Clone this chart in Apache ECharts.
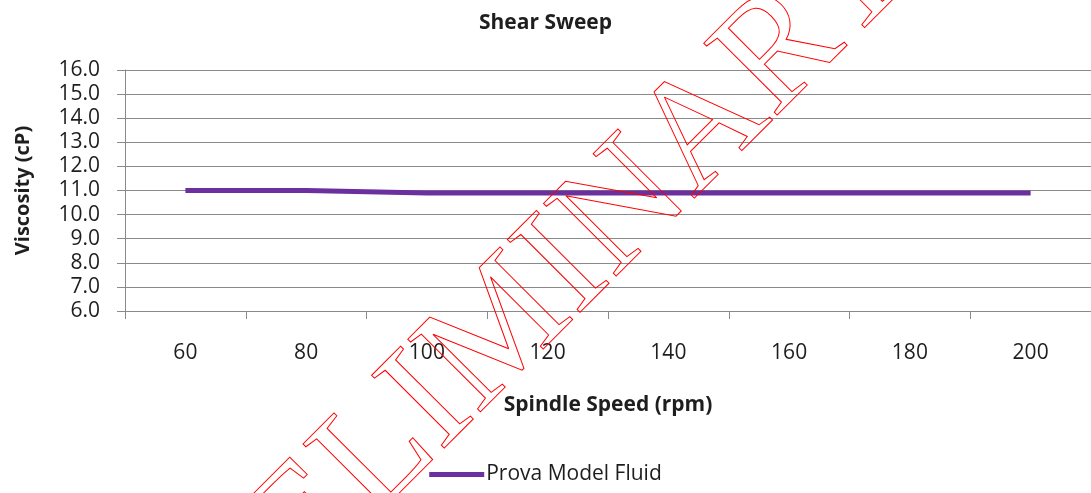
<!DOCTYPE html>
<html>
<head>
<meta charset="utf-8">
<script src="https://cdn.jsdelivr.net/npm/echarts@6/dist/echarts.min.js"></script>
<style>
  html, body { margin: 0; padding: 0; background: #fff; }
  #chart { width: 1091px; height: 493px; }
</style>
</head>
<body>
<div id="chart"></div>
<script>
  // spindle speeds (rpm) and measured viscosity (cP)
  const speeds = ['60', '80', '100', '120', '140', '160', '180', '200']
  const viscosity = [11.0, 11.0, 10.9, 10.9, 10.9, 10.9, 10.9, 10.9]
  const seriesName = 'Prova Model Fluid'

  const font = 'Open Sans'
  const textColor = '#1e1e1e'
  const gridColor = '#8a8a8a'

  let chart = echarts.init(document.getElementById('chart'))
  chart.setOption({
    animation: false,
    backgroundColor: '#fff',
    title: {
      text: 'Shear Sweep',
      left: 'center',
      top: 8,
      textStyle: { fontFamily: font, fontSize: 21, fontWeight: 'bold', color: textColor }
    },
    legend: {
      data: [seriesName],
      bottom: 3,
      left: 'center',
      icon: 'rect',
      itemWidth: 55,
      itemHeight: 5,
      itemGap: 5,
      textStyle: { fontFamily: font, fontSize: 21, color: textColor, padding: [0, 0, 0, -3] }
    },
    grid: {
      left: 125,
      top: 70,
      width: 972,
      height: 241
    },
    xAxis: {
      type: 'category',
      data: speeds,
      boundaryGap: true,
      name: 'Spindle Speed (rpm)',
      nameLocation: 'middle',
      nameGap: 84,
      nameTextStyle: { fontFamily: font, fontSize: 21, fontWeight: 'bold', color: textColor },
      axisLine: { lineStyle: { color: gridColor, width: 1 } },
      axisTick: { show: true, length: 8, lineStyle: { color: gridColor } },
      axisLabel: { fontFamily: font, fontSize: 21, color: textColor, margin: 32 }
    },
    yAxis: {
      type: 'value',
      min: 6,
      max: 16,
      interval: 1,
      name: 'Viscosity (cP)',
      nameLocation: 'middle',
      nameGap: 92,
      nameTextStyle: { fontFamily: font, fontSize: 20, fontWeight: 'bold', color: textColor },
      axisLine: { show: true, lineStyle: { color: gridColor, width: 1 } },
      axisTick: { show: true, length: 8, lineStyle: { color: gridColor } },
      axisLabel: {
        fontFamily: font, fontSize: 21, color: textColor, margin: 25,
        formatter: v => v.toFixed(1)
      },
      splitLine: { lineStyle: { color: gridColor, width: 1 } }
    },
    series: [{
      name: seriesName,
      type: 'line',
      data: viscosity,
      symbol: 'none',
      lineStyle: { color: '#6b2f9e', width: 5 },
      itemStyle: { color: '#6b2f9e' }
    }],
    graphic: [{
      // outlined watermark across the plot
      type: 'text',
      x: 516,
      y: 318,
      rotation: Math.PI / 4,
      silent: true,
      z: 100,
      style: {
        text: 'PRELIMINARY',
        fontFamily: 'Liberation Serif',
        fontSize: 157,
        fill: 'none',
        stroke: '#ff0000',
        lineWidth: 1,
        align: 'center',
        verticalAlign: 'middle'
      }
    }]
  })
</script>
</body>
</html>
